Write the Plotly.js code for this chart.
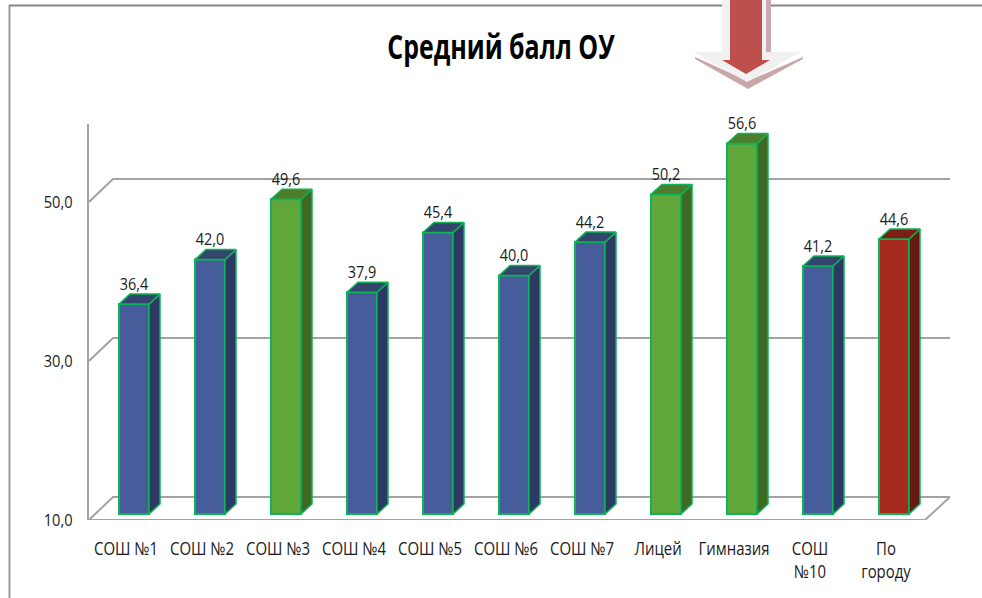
<!DOCTYPE html>
<html>
<head>
<meta charset="utf-8">
<script src="https://cdn.plot.ly/plotly-3.0.1.min.js"></script>
<style>html,body{margin:0;padding:0;background:#fff;overflow:hidden}#chart{width:982px;height:598px}</style>
</head>
<body>
<div id="chart"></div>
<script>
var categories = ['СОШ №1','СОШ №2','СОШ №3','СОШ №4','СОШ №5','СОШ №6','СОШ №7','Лицей','Гимназия','СОШ<br>№10','По<br>городу'];
var values = [36.4,42.0,49.6,37.9,45.4,40.0,44.2,50.2,56.6,41.2,44.6];
var groups = ['b','b','g','b','b','b','b','g','g','b','r'];
var gridValues = [10,30,50];

var W=982,H=598,L=89,R=950,T=124,B=520;
var pxX=76, pxY=7.95;
var xIdx=function(px){return (px-134)/pxX;};
var xRange=[xIdx(L),xIdx(R)];
var yRange=[10,10+(B-T)/pxY];
var barW=30/pxX, lift=6/pxY, depX=11/pxX, depY=10/pxY;
var wallX=24/pxX, wallY=23/pxY, floorInset=25/pxX, labelShift=8/pxX;
var palette={
  b:{front:'#465c9b',side:'#2b3a63',top:'#33446f'},
  g:{front:'#62a73b',side:'#3f6a24',top:'#4d7c2a'},
  r:{front:'#a72a1c',side:'#691a10',top:'#7a1f14'}
};
var edge='#0db354';
var FONT='"Open Sans","Noto Sans",sans-serif';
var idx=categories.map(function(_,i){return i;});

var traces=[{
  type:'bar',x:idx,y:values.map(function(v){return v-10;}),base:lift+10,width:barW,
  marker:{color:groups.map(function(g){return palette[g].front;}),line:{color:edge,width:2}},
  hoverinfo:'skip',showlegend:false
}];
idx.forEach(function(i){
  var v=values[i]+lift, b=10+lift, xr=i+barW/2, xl=i-barW/2, c=palette[groups[i]];
  traces.push({type:'scatter',mode:'lines',fill:'toself',fillcolor:c.side,line:{color:edge,width:1.5},hoverinfo:'skip',showlegend:false,
    x:[xr,xr+depX,xr+depX,xr,xr],y:[b,b+depY,v+depY,v,b]});
  traces.push({type:'scatter',mode:'lines',fill:'toself',fillcolor:c.top,line:{color:edge,width:1.5},hoverinfo:'skip',showlegend:false,
    x:[xl,xl+depX,xr+depX,xr,xl],y:[v,v+depY,v+depY,v,v]});
});
traces.push({type:'scatter',mode:'text',x:idx,y:values.map(function(v){return v+lift+depY;}),
  text:values.map(function(v){return v.toFixed(1).replace('.',',');}),textposition:'top center',
  textfont:{family:FONT,size:17,color:'#1a1a1a'},hoverinfo:'skip',showlegend:false,cliponaxis:false});

var grey='#a3a3a3';
var shapes=[];
gridValues.forEach(function(g){
  if(g===10)return;
  shapes.push({type:'path',layer:'below',xref:'x',yref:'y',line:{color:grey,width:2},
    path:'M '+xRange[0]+' '+g+' L '+(xRange[0]+wallX)+' '+(g+wallY)+' L '+xRange[1]+' '+(g+wallY)});
});
shapes.push({type:'path',layer:'below',xref:'x',yref:'y',line:{color:grey,width:2},
  path:'M '+xRange[0]+' 10 L '+(xRange[0]+wallX)+' '+(10+wallY)+' L '+xRange[1]+' '+(10+wallY)+' L '+(xRange[1]-floorInset)+' 10 Z'});

var px=function(x){return (x-L)/(R-L);}, py=function(y){return (B-y)/(B-T);};
function poly(pts,fill,layer){
  shapes.push({type:'path',xref:'paper',yref:'paper',layer:layer||'above',fillcolor:fill,line:{width:0},
    path:pts.map(function(p,i){return (i?'L ':'M ')+px(p[0])+' '+py(p[1]);}).join(' ')+' Z'});
}
// frame
shapes.push({type:'line',xref:'paper',yref:'paper',layer:'below',x0:px(9.5),x1:px(9.5),y0:py(5),y1:py(598),line:{color:'#999999',width:2}});
shapes.push({type:'line',xref:'paper',yref:'paper',layer:'below',x0:px(9),x1:px(982),y0:py(5.5),y1:py(5.5),line:{color:'#858585',width:2}});
// arrow
poly([[722,0],[771,0],[771,10],[722,10]],'#ffffff');
poly([[766,0],[771,0],[771,52],[766,52]],'#c9abae');
poly([[695,57],[748,81],[803,57],[803,59],[748,89],[695,59]],'#c9a6a9');
poly([[722,0],[766,0],[766,52],[801,52],[747,82],[693,52],[722,52]],'#f1f1f2');
poly([[730,0],[762,0],[762,60],[770,60],[746,74],[722,60],[730,60]],'#bd504d');

var layout={
  width:W,height:H,paper_bgcolor:'#fff',plot_bgcolor:'rgba(0,0,0,0)',
  margin:{l:L,r:W-R,t:T,b:H-B,pad:0},showlegend:false,bargap:0,separators:', ',
  title:{text:'<b>Средний балл ОУ</b>',x:501/W,xanchor:'center',y:1-47/H,yanchor:'middle',
    font:{family:FONT,size:34,color:'#000'}},
  xaxis:{type:'linear',range:xRange,tickmode:'array',tickvals:idx.map(function(i){return i-labelShift;}),ticktext:categories,tickangle:0,
    showgrid:false,zeroline:false,showline:false,ticks:'outside',ticklen:12,tickcolor:'rgba(0,0,0,0)',
    tickfont:{family:FONT,size:18,color:'#1a1a1a'}},
  yaxis:{range:yRange,tickmode:'array',tickvals:gridValues,ticktext:gridValues.map(function(v){return v.toFixed(1).replace('.',',');}),
    showgrid:false,zeroline:false,showline:true,linecolor:grey,linewidth:2,ticks:'outside',ticklen:11,tickcolor:'rgba(0,0,0,0)',
    tickfont:{family:FONT,size:17,color:'#1a1a1a'}},
  shapes:shapes
};
function squeeze(sel,f){
  document.querySelectorAll(sel).forEach(function(t){
    var parts=t.querySelectorAll('tspan.line');
    var els=parts.length?parts:[t];
    els.forEach(function(e){
      var w=e.getComputedTextLength();
      e.setAttribute('lengthAdjust','spacingAndGlyphs');
      e.setAttribute('textLength',w*f);
    });
  });
}
Plotly.newPlot('chart',traces,layout,{displayModeBar:false,staticPlot:true}).then(function(){
  squeeze('.gtitle',0.733);
  squeeze('.xtick text',0.83);
  squeeze('.ytick text',0.86);
  squeeze('.textpoint text',0.85);
});
</script>
</body>
</html>
